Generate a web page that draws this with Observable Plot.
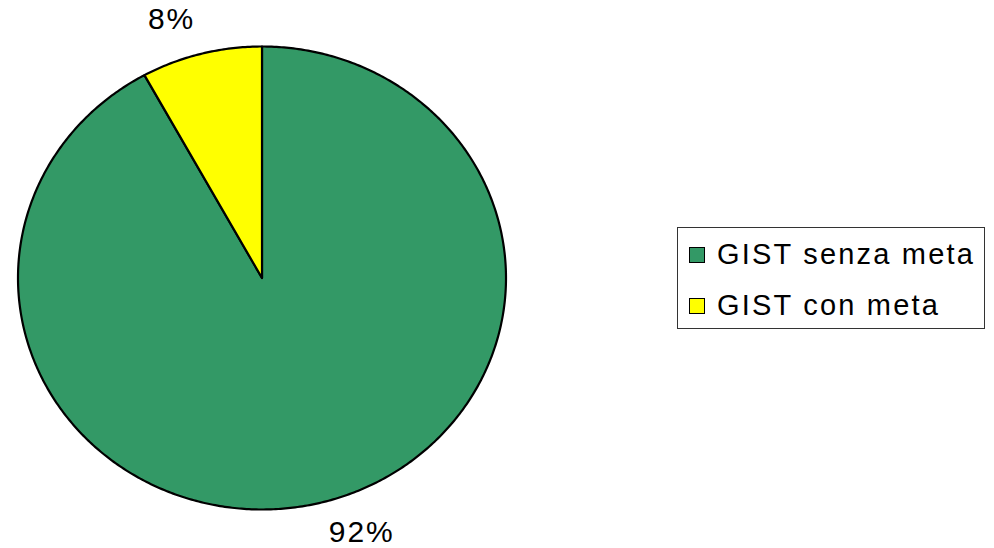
<!DOCTYPE html>
<html>
<head>
<meta charset="utf-8">
<script src="https://cdn.jsdelivr.net/npm/d3@7"></script>
<script src="https://cdn.jsdelivr.net/npm/@observablehq/plot@0.6"></script>
<style>
  html, body { margin: 0; padding: 0; background: #fff; }
  #wrap { position: relative; width: 994px; height: 548px; overflow: hidden; font-family: "Liberation Sans", Arial, sans-serif; }
  #legend {
    position: absolute; left: 677px; top: 227px; width: 306px; height: 100px;
    border: 1.5px solid #333; background: #fff; box-sizing: content-box;
  }
  .item { position: absolute; left: 11px; display: flex; align-items: center; }
  .swatch { width: 14px; height: 14px; border: 1.5px solid #000; margin-right: 12px; flex: none; }
  .lab { font-size: 29px; letter-spacing: 2.2px; color: #000; line-height: 1; white-space: nowrap; }
</style>
</head>
<body>
<div id="wrap"></div>
<script>
// Slices of the pie, in drawing order (clockwise from 12 o'clock)
const categories = ["GIST senza meta", "GIST con meta"];
const values = [92, 8];
const labels = ["92%", "8%"];
const colors = ["#339966", "#ffff00"];

const arcs = d3.pie().sort(null)(values);

// Outline of each slice in unit coordinates: centre, then points along the arc
const outline = [];
arcs.forEach((a, i) => {
  outline.push({slice: categories[i], x: 0, y: 0});
  const n = Math.max(2, Math.ceil((a.endAngle - a.startAngle) / 0.01));
  for (let k = 0; k <= n; ++k) {
    const t = a.startAngle + (a.endAngle - a.startAngle) * k / n;
    outline.push({slice: categories[i], x: Math.sin(t), y: Math.cos(t)});
  }
});

// Percentage labels just outside each slice, along its mid angle
const labelPts = arcs.map((a, i) => {
  const m = (a.startAngle + a.endAngle) / 2;
  return {text: labels[i], x: 1.1 * Math.sin(m), y: 1.1 * Math.cos(m)};
});

const textStyle = {fontSize: 30, fontFamily: "Liberation Sans, Arial, sans-serif", fill: "#000"};

const chart = Plot.plot({
  width: 994,
  height: 548,
  margin: 0,
  style: {background: "transparent", overflow: "visible"},
  x: {domain: [-1, 1], range: [17.5, 505.5], axis: null},
  y: {domain: [-1, 1], range: [509, 46], axis: null},
  color: {domain: categories, range: colors},
  marks: [
    Plot.line(outline, {
      x: "x", y: "y", z: "slice", fill: "slice",
      stroke: "#000", strokeWidth: 2.2, strokeLinejoin: "round",
      curve: "linear-closed"
    }),
    Plot.text(labelPts.filter(d => d.y > 0), {
      x: "x", y: "y", text: "text",
      textAnchor: "end", lineAnchor: "bottom", dy: -2, ...textStyle
    }),
    Plot.text(labelPts.filter(d => d.y <= 0), {
      x: "x", y: "y", text: "text",
      textAnchor: "start", lineAnchor: "top", dy: -4, ...textStyle
    })
  ]
});

chart.querySelectorAll("text").forEach(t => t.setAttribute("letter-spacing", "2"));

const wrap = document.getElementById("wrap");
wrap.appendChild(chart);

// Legend box
const legend = document.createElement("div");
legend.id = "legend";
categories.forEach((c, i) => {
  const item = document.createElement("div");
  item.className = "item";
  item.style.top = (12 + i * 51) + "px";
  const sw = document.createElement("div");
  sw.className = "swatch";
  sw.style.background = colors[i];
  const lab = document.createElement("span");
  lab.className = "lab";
  lab.textContent = c;
  item.appendChild(sw);
  item.appendChild(lab);
  legend.appendChild(item);
});
wrap.appendChild(legend);
</script>
</body>
</html>
